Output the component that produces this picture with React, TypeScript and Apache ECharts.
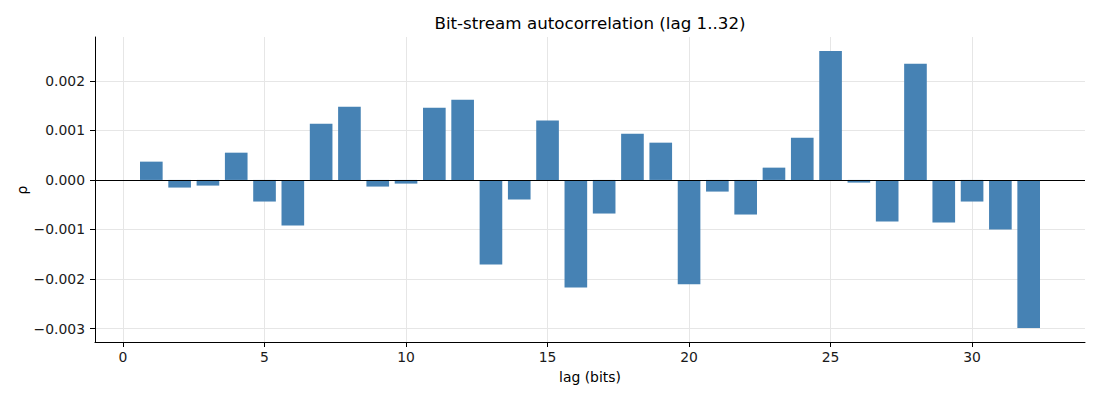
import React, { useEffect, useRef } from "react";
import * as echarts from "echarts";

const lags: number[] = Array.from({ length: 32 }, (_, i) => i + 1);
const rho: number[] = [
  0.000369, -0.000154, -0.000114, 0.00055, -0.000436, -0.00092, 0.001134, 0.001477,
  -0.000134, -0.000074, 0.001456, 0.001617, -0.001705, -0.000396, 0.001201, -0.002168,
  -0.000678, 0.000933, 0.000752, -0.002107, -0.000235, -0.000698, 0.000248, 0.000852,
  0.002604, -0.000054, -0.000839, 0.002342, -0.000859, -0.000436, -0.001, -0.00299,
];
const xTicks: number[] = [0, 5, 10, 15, 20, 25, 30];
const yTicks: number[] = [-0.003, -0.002, -0.001, 0, 0.001, 0.002];
const barWidth = 0.8;

const FONT = "DejaVu Sans";

export default function App() {
  const ref = useRef<HTMLDivElement>(null);
  useEffect(() => {
    if (!ref.current) return;
    const chart = echarts.init(ref.current, null, { renderer: "svg" });
    const data = lags.map((l, i) => [l, rho[i]]);
    chart.setOption({
      animation: false,
      backgroundColor: "#ffffff",
      textStyle: { fontFamily: FONT },
      grid: { left: 95, top: 37, width: 990, height: 305, containLabel: false },
      xAxis: {
        type: "value",
        min: -0.99,
        max: 33.99,
        axisLine: { show: true, onZero: false, lineStyle: { color: "#000", width: 1 } },
        axisTick: { show: true, length: 5, customValues: xTicks, lineStyle: { color: "#000", width: 1 } },
        axisLabel: {
          customValues: xTicks,
          color: "#1a1a1a",
          fontSize: 13.9,
          fontFamily: FONT,
          margin: 8,
        },
        splitLine: { show: true, lineStyle: { color: "#e6e6e6", width: 1 } },
      },
      yAxis: {
        type: "value",
        min: -0.00327,
        max: 0.002884,
        axisLine: { show: true, onZero: false, lineStyle: { color: "#000", width: 1 } },
        axisTick: { show: true, length: 5, customValues: yTicks, lineStyle: { color: "#000", width: 1 } },
        axisLabel: {
          customValues: yTicks,
          color: "#1a1a1a",
          fontSize: 13.9,
          fontFamily: FONT,
          margin: 10,
          formatter: (v: number) => {
            const s = Math.abs(v).toFixed(3);
            return v < -1e-12 ? "\u2212" + s : s;
          },
        },
        splitLine: { show: true, lineStyle: { color: "#e6e6e6", width: 1 } },
      },
      series: [
        {
          type: "custom",
          data,
          renderItem: (params: any, api: any) => {
            const x = api.value(0);
            const v = api.value(1);
            const p1 = api.coord([x - barWidth / 2, Math.max(v, 0)]);
            const p2 = api.coord([x + barWidth / 2, Math.min(v, 0)]);
            return {
              type: "rect",
              shape: { x: p1[0], y: p1[1], width: p2[0] - p1[0], height: p2[1] - p1[1] },
              style: { fill: "#4682b4" },
            };
          },
          markLine: {
            silent: true,
            symbol: "none",
            label: { show: false },
            lineStyle: { color: "#000", width: 1, type: "solid" },
            data: [{ yAxis: 0 }],
            z: 10,
          },
        },
      ],
      graphic: [
        {
          type: "text",
          x: 590,
          y: 23,
          style: {
            text: "Bit-stream autocorrelation (lag 1..32)",
            fontSize: 16.7,
            fontFamily: FONT,
            fill: "#000",
            textAlign: "center",
            textVerticalAlign: "middle",
          },
        },
        {
          type: "text",
          x: 590,
          y: 377,
          style: {
            text: "lag (bits)",
            fontSize: 13.9,
            fontFamily: FONT,
            fill: "#000",
            textAlign: "center",
            textVerticalAlign: "middle",
          },
        },
        {
          type: "text",
          x: 22,
          y: 190,
          rotation: Math.PI / 2,
          style: {
            text: "ρ",
            fontSize: 13.9,
            fontFamily: FONT,
            fill: "#000",
            textAlign: "center",
            textVerticalAlign: "middle",
          },
        },
      ],
    });
    return () => chart.dispose();
  }, []);
  return (
    <div
      ref={ref}
      style={{ position: "fixed", left: 0, top: 0, width: 1100, height: 400 }}
    />
  );
}
